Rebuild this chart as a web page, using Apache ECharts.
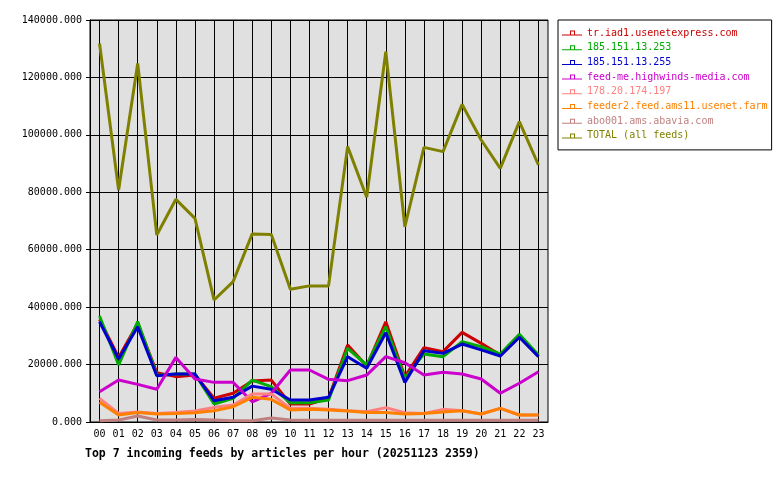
<!DOCTYPE html>
<html>
<head>
<meta charset="utf-8">
<script src="https://cdn.jsdelivr.net/npm/echarts@6/dist/echarts.min.js"></script>
<style>
html, body { margin: 0; padding: 0; background: #fff; }
#chart { width: 780px; height: 480px; }
</style>
</head>
<body>
<div id="chart"></div>
<script>
// hours of the day
var hours = ['00','01','02','03','04','05','06','07','08','09','10','11',
             '12','13','14','15','16','17','18','19','20','21','22','23'];

// articles per hour
var iad1     = [35750,22500,34350,17200,15800,16400,8250,10000,14300,14600,6250,6250,
                8250,26800,19500,34900,15800,25900,24500,31200,27400,23300,29700,23000];
var h253     = [36900,19850,35000,16300,16700,16700,6250,8250,14600,12300,6700,6700,
                7650,25650,19850,33200,15200,23700,22750,27950,26200,23700,30550,23300];
var h255     = [34900,21950,33200,16100,16700,16700,7400,8600,12500,11400,7650,7650,
                8600,22750,18700,31100,13800,24850,23900,27150,25100,23000,29500,22750];
var highwinds= [10550,14600,13100,11400,22500,15000,13800,13800,7050,10000,18100,18100,
                14850,14400,16350,22750,20650,16350,17300,16700,15000,10000,13500,17500];
var h197     = [8250,3000,3500,3000,3300,3800,5100,5900,9750,9750,4750,4750,
                4400,3950,3600,5000,3250,3000,4400,3950,2800,4750,2450,2450];
var ams11    = [6850,2450,3300,2800,3000,3250,3950,5300,8600,7900,4200,4400,
                4200,3800,3300,3300,2800,3000,3500,3950,2800,4750,2450,2450];
var abavia   = [450,700,2100,700,700,900,700,450,450,1400,700,600,
                600,600,600,600,600,600,600,600,600,600,600,600];
var total    = [131800,80800,124900,65100,77550,70900,42500,48900,65500,65300,46200,47400,
                47400,95900,78250,129000,68000,95650,94150,110600,98200,88350,104600,89500];

var names  = ['tr.iad1.usenetexpress.com','185.151.13.253','185.151.13.255',
              'feed-me.highwinds-media.com','178.20.174.197','feeder2.feed.ams11.usenet.farm',
              'abo001.ams.abavia.com','TOTAL (all feeds)'];
var colors = ['#cc0000','#00aa00','#0000cc','#cc00cc','#ff8080','#ff8000','#c08080','#808000'];
var values = [iad1, h253, h255, highwinds, h197, ams11, abavia, total];

var mono = 'DejaVu Sans Mono';
var chart = echarts.init(document.getElementById('chart'));

var series = [];
var legendData = [];
names.forEach(function (n, i) {
    series.push({
        name: n,
        type: 'line',
        data: values[i],
        symbol: 'none',
        lineStyle: { color: colors[i], width: 3 },
        itemStyle: { color: colors[i] }
    });
    legendData.push({ name: n, textStyle: { color: colors[i] } });
});
// vertical grid lines through every hour, kept under the feed lines
series[0].markLine = {
    silent: true,
    z: 1,
    symbol: ['none', 'none'],
    label: { show: false },
    lineStyle: { color: '#000', width: 1, type: 'solid', opacity: 1 },
    emphasis: { disabled: true },
    data: hours.map(function (h) { return { xAxis: h }; })
};

chart.setOption({
    animation: false,
    backgroundColor: '#fff',
    title: {
        text: 'Top 7 incoming feeds by articles per hour (20251123 2359)',
        left: 80,
        top: 443,
        textStyle: { fontFamily: mono, fontSize: 11.5, fontWeight: 'bold', color: '#000' }
    },
    legend: {
        orient: 'vertical',
        left: 558,
        top: 20,
        padding: [7, 4, 8, 4],
        itemGap: 2.7,
        itemWidth: 20,
        itemHeight: 5,
        backgroundColor: '#fff',
        borderColor: '#000',
        borderWidth: 1,
        borderRadius: 0,
        icon: 'path://M0,4h20v1h-20z M8,0h5v1h-5z M8,0h1v4h-1z M12,0h1v4h-1z',
        itemStyle: { borderWidth: 0 },
        textStyle: { fontFamily: mono, fontSize: 10, lineHeight: 12 },
        selectedMode: false,
        data: legendData
    },
    grid: {
        left: 90, right: 232, top: 20, bottom: 58,
        show: true,
        backgroundColor: '#e0e0e0',
        borderColor: '#000',
        borderWidth: 1
    },
    xAxis: {
        type: 'category',
        data: hours,
        boundaryGap: true,
        axisLine: { lineStyle: { color: '#000', width: 1 } },
        axisTick: { show: false },
        axisLabel: { fontFamily: mono, fontSize: 10, color: '#000', margin: 7, interval: 0 },
        splitLine: { show: false }
    },
    yAxis: {
        type: 'value',
        min: 0,
        max: 140000,
        interval: 20000,
        axisLine: { show: true, lineStyle: { color: '#000', width: 1 } },
        axisTick: { show: true, length: 4, lineStyle: { color: '#000' } },
        axisLabel: {
            fontFamily: mono, fontSize: 10, color: '#000', margin: 8,
            formatter: function (v) { return v.toFixed(3); }
        },
        splitLine: { show: true, lineStyle: { color: '#000', width: 1 } }
    },
    series: series
});
</script>
</body>
</html>
